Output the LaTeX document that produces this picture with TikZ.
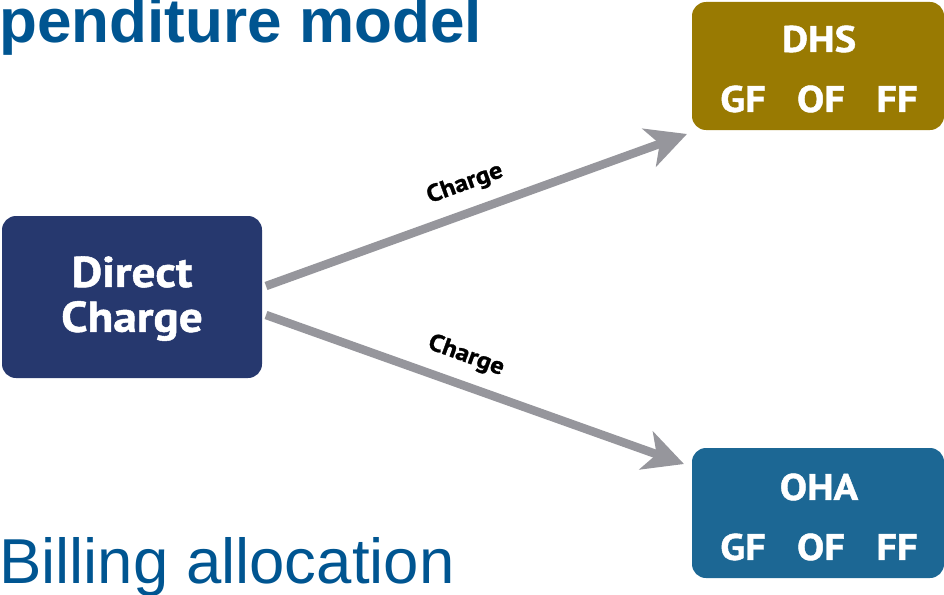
\documentclass[tikz,border=0pt]{standalone}
\usepackage{fontspec}
\setmainfont{Liberation Sans}
\newfontfamily\boxfont{PT Sans}[FakeStretch=1.1,FakeBold=1.2]
\usetikzlibrary{arrows.meta}
\definecolor{titleblue}{RGB}{0,85,145}
\definecolor{dcnavy}{RGB}{38,56,110}
\definecolor{dhsgold}{RGB}{153,122,2}
\definecolor{ohablue}{RGB}{28,103,148}
\definecolor{arrowgray}{RGB}{150,150,156}
\begin{document}
\begin{tikzpicture}[x=1pt,y=-1pt,
  boxtext/.style={text=white, font=\boxfont\bfseries\fontsize{37}{40}\selectfont, inner sep=0pt},
  dctext/.style={text=white, font=\boxfont\bfseries\fontsize{43}{46}\selectfont, inner sep=0pt},
  flow/.style={draw=arrowgray, line width=8.5pt, -{Stealth[length=40pt,width=40pt,inset=11pt]}},
  flowlabel/.style={font=\boxfont\bfseries\fontsize{24}{26}\selectfont, inner sep=0pt}]
\useasboundingbox (0,0) rectangle (944,594);
% titles
\node[anchor=base east, text=titleblue, font=\bfseries\fontsize{62}{70}\selectfont, inner sep=0pt] (title) at (482,43) {penditure model};
\node[anchor=base west, text=titleblue, font=\fontsize{63.5}{70}\selectfont, inner sep=0pt] (billing) at (-1,583) {Billing allocation};
% boxes
\path[fill=dcnavy, rounded corners=14pt] (2,216) rectangle (262,378);
\node[dctext] (dct1) at (132,272) {Direct};
\node[dctext] (dct2) at (132,321) {Charge};
\path[fill=dhsgold, rounded corners=14pt] (692,2) rectangle (944,130);
\node[boxtext] (dhs) at (819,39) {DHS};
\node[boxtext] (dhsgf) at (743,99) {GF};
\node[boxtext] (dhsof) at (821,99) {OF};
\node[boxtext] (dhsff) at (897,99) {FF};
\path[fill=ohablue, rounded corners=14pt] (692,448) rectangle (944,578);
\node[boxtext] (oha) at (819,487) {OHA};
\node[boxtext] (ohagf) at (743,547) {GF};
\node[boxtext] (ohaof) at (821,547) {OF};
\node[boxtext] (ohaff) at (897,547) {FF};
% connectors
\coordinate (s1) at (266,286);
\coordinate (t1) at (687,134);
\coordinate (s2) at (266,315);
\coordinate (t2) at (684,464);
\draw[flow] (s1) -- (t1);
\draw[flow] (s2) -- (t2);
\node[flowlabel, rotate=20] (l1) at (465,184) {Charge};
\node[flowlabel, rotate=-20] (l2) at (466,356) {Charge};
\end{tikzpicture}
\end{document}
